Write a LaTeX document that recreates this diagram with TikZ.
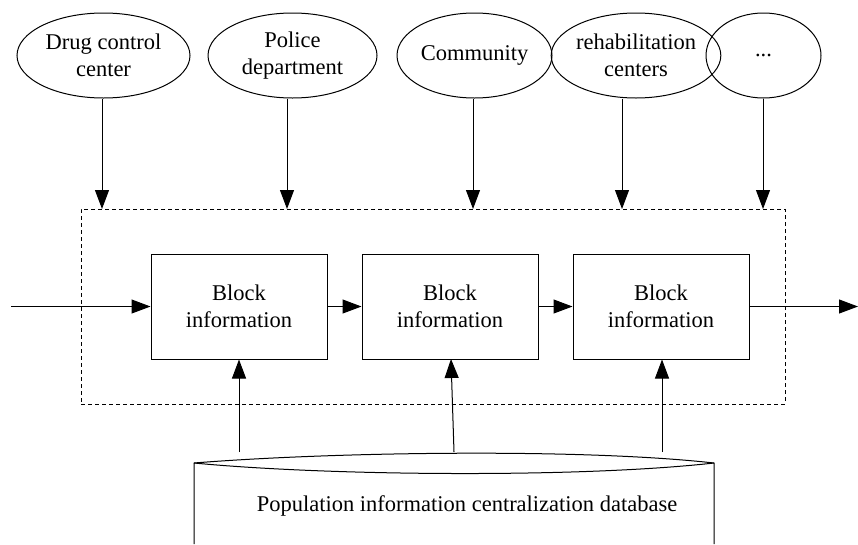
\documentclass[tikz,border=0pt]{standalone}
\usepackage{fontspec}
\setmainfont{Liberation Serif}
\usetikzlibrary{arrows.meta,shapes.geometric}
\begin{document}
\begin{tikzpicture}[x=1pt,y=-1pt,
  every node/.style={font=\fontsize{22.5}{27}\selectfont},
  src/.style={draw, ellipse, line width=1pt, inner sep=0pt, align=center, minimum height=85pt},
  blockbox/.style={draw, rectangle, line width=1pt, inner sep=0pt, align=center,
    minimum width=176pt, minimum height=105pt},
  frame/.style={draw, dashed, dash pattern=on 4pt off 3pt, line width=0.9pt, inner sep=0pt,
    minimum width=704pt, minimum height=195pt},
  flow/.style={-{Triangle[length=19pt,width=14pt]}, line width=1pt},
  dbline/.style={line width=1pt}
]
\useasboundingbox (0,0) rectangle (858,544);

% information sources
\node[src, minimum width=173pt] (drug) at (103.5,55.5) {Drug control\\center};
\node[src, minimum width=169pt] (pol)  at (292.5,55.5) {Police\\department};
\node[src, minimum width=155pt] (com)  at (474.5,55.5) {Community};
\node[src, minimum width=140pt] (reh)  at (636,55.5) {rehabilitation\\centers};
\node[src, minimum width=115pt] (etc)  at (763.5,55.5) {...};

% chain of blocks inside the dashed frame
\node[frame] (fr) at (433,306.5) {};
\node[blockbox] (b1) at (239,306.5) {Block\\information};
\node[blockbox] (b2) at (450,306.5) {Block\\information};
\node[blockbox] (b3) at (661,306.5) {Block\\information};

% arrow end points on the frame
\coordinate (t1) at (102,209);
\coordinate (t2) at (287,209);
\coordinate (t3) at (473,209);
\coordinate (t4) at (622,209);
\coordinate (t5) at (763,209);

\draw[flow] (drug.south -| t1) -- (t1);
\draw[flow] (pol.south -| t2) -- (t2);
\draw[flow] (com.south -| t3) -- (t3);
\draw[flow] (reh.south -| t4) -- (t4);
\draw[flow] (etc.south -| t5) -- (t5);

% chain links
\coordinate (in) at (11,306.5);
\coordinate (out) at (858,306.5);
\draw[flow] (in) -- (b1.west);
\draw[flow] (b1.east) -- (b2.west);
\draw[flow] (b2.east) -- (b3.west);
\draw[flow] (b3.east) -- (out);

% database
\coordinate (dbl) at (194,463);
\coordinate (dbr) at (714,463);
\draw[dbline] (194,544) -- (dbl) .. controls (330,452) and (580,448) .. (dbr) -- (714,544);
\draw[dbline] (dbl) .. controls (330,476) and (580,478) .. (dbr);
\node (db) at (467,506) {Population information centralization database};

\coordinate (d1) at (239,452);
\coordinate (d2) at (454,452);
\coordinate (d3) at (662,452);
\draw[flow] (d1) -- (b1.south);
\draw[flow] (d2) -- (451,359);
\draw[flow] (d3) -- (d3 |- b3.south);
\end{tikzpicture}
\end{document}
